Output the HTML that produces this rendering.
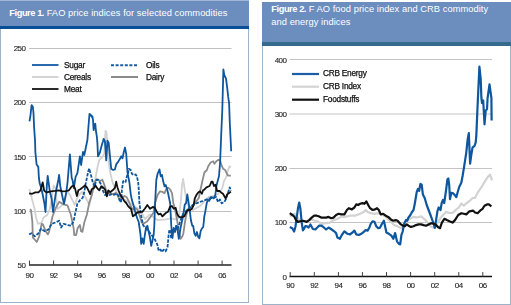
<!DOCTYPE html>
<html><head><meta charset="utf-8"><style>
*{margin:0;padding:0;box-sizing:border-box}
html,body{width:511px;height:305px;overflow:hidden;background:#fff}
body{position:relative;font-family:"Liberation Sans",sans-serif}
.box{position:absolute;width:249px;height:303px;border:1px solid #9db4c8;border-top:none;background:#fff}
.hd{position:absolute;left:-1px;top:0;width:249px;background:#6b8ebf;color:#fff}
.bar{position:absolute;left:-1px;width:249px}
.t{position:absolute;white-space:nowrap;font-size:9.3px;line-height:13px;color:#fff;letter-spacing:0.06px}
.t b{font-weight:bold;letter-spacing:-0.45px}
svg{position:absolute;left:0;top:0;will-change:transform}

.ax{font-size:8px;fill:#1a1a1a;stroke:#1a1a1a;stroke-width:0.1px;letter-spacing:-0.5px}
.lg{font-size:8.3px;fill:#111;stroke:#111;stroke-width:0.25px;letter-spacing:-0.25px}
</style></head><body>
<div class="box" style="left:0;top:0"><div class="hd" style="height:26px;border-top:1px solid #a3b8d6"></div><div class="bar" style="top:26px;height:3px;background:#064e96"></div></div>
<div class="box" style="left:262px;top:2px"><div class="hd" style="height:40px"></div><div class="bar" style="top:39.8px;height:4px;background:#346b8d"></div></div>
<div class="t" style="left:9.3px;top:6.7px"><b>Figure 1.</b> FAO price indices for selected commodities</div>
<div class="t" style="left:271.3px;top:3.2px"><b>Figure 2.</b> F AO food price index and CRB commodity<br>and energy indices</div>
<svg width="511" height="305" viewBox="0 0 511 305">
<line x1="29" y1="211.5" x2="231.5" y2="211.5" stroke="#c0c0c0" stroke-width="1"/><line x1="29" y1="156.5" x2="231.5" y2="156.5" stroke="#c0c0c0" stroke-width="1"/><line x1="29" y1="102.5" x2="231.5" y2="102.5" stroke="#c0c0c0" stroke-width="1"/><line x1="29" y1="48.5" x2="231.5" y2="48.5" stroke="#c0c0c0" stroke-width="1"/><line x1="29" y1="265" x2="231.5" y2="265" stroke="#5a5a5a" stroke-width="2"/><line x1="29.5" y1="260.5" x2="29.5" y2="265" stroke="#444" stroke-width="1"/><line x1="53.6" y1="260.5" x2="53.6" y2="265" stroke="#444" stroke-width="1"/><line x1="77.7" y1="260.5" x2="77.7" y2="265" stroke="#444" stroke-width="1"/><line x1="101.7" y1="260.5" x2="101.7" y2="265" stroke="#444" stroke-width="1"/><line x1="125.8" y1="260.5" x2="125.8" y2="265" stroke="#444" stroke-width="1"/><line x1="149.9" y1="260.5" x2="149.9" y2="265" stroke="#444" stroke-width="1"/><line x1="174.0" y1="260.5" x2="174.0" y2="265" stroke="#444" stroke-width="1"/><line x1="198.1" y1="260.5" x2="198.1" y2="265" stroke="#444" stroke-width="1"/><line x1="222.1" y1="260.5" x2="222.1" y2="265" stroke="#444" stroke-width="1"/><text x="25.5" y="268.2" text-anchor="end" class="ax">50</text><text x="25.5" y="213.9" text-anchor="end" class="ax">100</text><text x="25.5" y="159.5" text-anchor="end" class="ax">150</text><text x="25.5" y="105.2" text-anchor="end" class="ax">200</text><text x="25.5" y="50.9" text-anchor="end" class="ax">250</text><text x="29.5" y="277.6" text-anchor="middle" class="ax">90</text><text x="53.6" y="277.6" text-anchor="middle" class="ax">92</text><text x="77.7" y="277.6" text-anchor="middle" class="ax">94</text><text x="101.7" y="277.6" text-anchor="middle" class="ax">96</text><text x="125.8" y="277.6" text-anchor="middle" class="ax">98</text><text x="149.9" y="277.6" text-anchor="middle" class="ax">00</text><text x="174.0" y="277.6" text-anchor="middle" class="ax">02</text><text x="198.1" y="277.6" text-anchor="middle" class="ax">04</text><text x="222.1" y="277.6" text-anchor="middle" class="ax">06</text><line x1="289.5" y1="222.5" x2="492" y2="222.5" stroke="#c4c4c4" stroke-width="1"/><line x1="289.5" y1="168.5" x2="492" y2="168.5" stroke="#c4c4c4" stroke-width="1"/><line x1="289.5" y1="114" x2="492" y2="114" stroke="#c4c4c4" stroke-width="1"/><line x1="289.5" y1="59.5" x2="492" y2="59.5" stroke="#c4c4c4" stroke-width="1"/><line x1="289.5" y1="276.5" x2="492" y2="276.5" stroke="#111" stroke-width="1.6"/><line x1="290.2" y1="272" x2="290.2" y2="276.5" stroke="#444" stroke-width="1"/><line x1="314.3" y1="272" x2="314.3" y2="276.5" stroke="#444" stroke-width="1"/><line x1="338.4" y1="272" x2="338.4" y2="276.5" stroke="#444" stroke-width="1"/><line x1="362.4" y1="272" x2="362.4" y2="276.5" stroke="#444" stroke-width="1"/><line x1="386.5" y1="272" x2="386.5" y2="276.5" stroke="#444" stroke-width="1"/><line x1="410.6" y1="272" x2="410.6" y2="276.5" stroke="#444" stroke-width="1"/><line x1="434.7" y1="272" x2="434.7" y2="276.5" stroke="#444" stroke-width="1"/><line x1="458.8" y1="272" x2="458.8" y2="276.5" stroke="#444" stroke-width="1"/><line x1="482.8" y1="272" x2="482.8" y2="276.5" stroke="#444" stroke-width="1"/><text x="286.5" y="279.5" text-anchor="end" class="ax">0</text><text x="286.5" y="225.2" text-anchor="end" class="ax">100</text><text x="286.5" y="171.0" text-anchor="end" class="ax">200</text><text x="286.5" y="116.7" text-anchor="end" class="ax">300</text><text x="286.5" y="62.5" text-anchor="end" class="ax">400</text><text x="290.2" y="288.2" text-anchor="middle" class="ax">90</text><text x="314.3" y="288.2" text-anchor="middle" class="ax">92</text><text x="338.4" y="288.2" text-anchor="middle" class="ax">94</text><text x="362.4" y="288.2" text-anchor="middle" class="ax">96</text><text x="386.5" y="288.2" text-anchor="middle" class="ax">98</text><text x="410.6" y="288.2" text-anchor="middle" class="ax">00</text><text x="434.7" y="288.2" text-anchor="middle" class="ax">02</text><text x="458.8" y="288.2" text-anchor="middle" class="ax">04</text><text x="482.8" y="288.2" text-anchor="middle" class="ax">06</text><line x1="32" y1="65" x2="58.5" y2="65" stroke="#2a6aae" stroke-width="2"/><line x1="32" y1="77" x2="58.5" y2="77" stroke="#d4d4d4" stroke-width="2"/><line x1="32" y1="89" x2="58.5" y2="89" stroke="#2a2a2a" stroke-width="2"/><line x1="111" y1="65.3" x2="138" y2="65.3" stroke="#1a5fa5" stroke-width="2" stroke-dasharray="3,1.6"/><line x1="111" y1="77" x2="138" y2="77" stroke="#8a8a8a" stroke-width="2"/><text x="64" y="68" class="lg">Sugar</text><text x="64" y="80" class="lg">Cereals</text><text x="64" y="92" class="lg">Meat</text><text x="146" y="68.3" class="lg">Oils</text><text x="146" y="80" class="lg">Dairy</text><line x1="292" y1="74" x2="319" y2="74" stroke="#1a5fa5" stroke-width="2.2"/><line x1="292" y1="86.7" x2="319" y2="86.7" stroke="#d4d4d4" stroke-width="2.2"/><line x1="292" y1="99.7" x2="319" y2="99.7" stroke="#111" stroke-width="2.2"/><text x="323" y="76.2" class="lg">CRB Energy</text><text x="323" y="89" class="lg">CRB Index</text><text x="323" y="102" class="lg">Foodstuffs</text>
<polyline points="29.3,189.0 30.8,194.3 32.7,201.9 34.6,209.0 36.0,217.5 37.9,223.8 41.7,222.5 43.5,217.5 47.3,215.0 49.8,209.0 51.7,199.0 53.6,185.7 55.5,187.6 56.4,199.0 57.4,209.0 60.0,207.0 64.0,202.8 66.9,191.4 70.0,195.0 74.6,204.8 78.0,196.0 82.0,192.0 86.0,198.0 89.3,205.0 93.0,189.8 95.5,178.0 97.4,167.6 99.3,160.0 101.8,157.5 104.3,153.8 104.8,143.0 105.5,130.7 106.5,132.0 107.4,143.0 108.6,162.4 110.7,174.8 112.8,183.1 116.9,193.4 125.0,200.0 131.0,203.8 137.0,208.0 141.0,212.0 145.0,219.0 150.0,214.5 157.6,220.2 166.2,219.3 170.9,218.3 174.7,219.3 178.5,218.0 179.8,210.0 181.0,200.0 181.9,186.0 183.1,178.8 185.6,195.1 188.0,205.0 193.0,210.0 200.0,206.0 208.6,197.0 214.0,196.0 218.0,194.0 222.2,188.5 224.0,181.0 225.9,177.9 227.6,171.3 229.5,166.3 230.8,167.5" fill="none" stroke="#d2d2d2" stroke-width="1.8" stroke-linejoin="round"/><polyline points="29.8,209.4 31.0,210.0 32.3,221.3 32.9,237.6 34.1,238.8 36.7,242.0 39.2,236.3 41.7,223.8 42.9,224.4 45.4,230.7 47.9,234.4 49.2,231.3 52.4,216.8 55.9,207.6 59.3,201.8 62.8,204.1 67.4,205.3 70.8,214.5 73.6,228.0 74.3,235.2 76.1,235.0 77.7,228.0 79.9,225.0 81.1,231.3 82.4,231.9 84.3,222.5 86.9,214.5 89.2,203.0 91.8,195.0 94.3,183.0 96.8,179.1 99.9,181.0 102.4,179.8 104.3,184.8 106.8,192.3 109.9,193.5 113.1,194.2 116.2,192.9 119.3,199.2 121.8,197.9 124.3,196.0 126.8,197.3 128.7,201.1 130.6,206.1 133.1,209.8 135.0,208.0 136.9,209.2 138.1,211.1 141.7,222.6 143.5,223.8 147.3,221.3 151.0,216.3 153.6,212.5 155.1,203.0 157.6,195.1 160.1,191.3 162.6,191.9 164.5,193.2 166.4,188.8 168.2,187.6 170.1,189.4 172.0,193.2 173.3,203.0 174.7,207.9 176.6,217.4 178.0,225.9 179.5,233.8 180.7,238.9 182.5,236.0 183.3,233.8 184.7,224.0 186.1,215.5 188.0,209.8 192.0,206.0 195.0,203.0 198.8,198.0 200.7,188.8 202.6,180.0 204.4,172.5 206.9,170.0 208.2,166.3 210.7,162.5 213.2,161.3 214.5,163.8 216.3,161.3 218.2,160.0 220.0,160.0 221.4,165.0 223.2,168.8 225.1,170.0 227.0,173.8 228.2,175.7 230.8,175.7" fill="none" stroke="#8c8c8c" stroke-width="1.8" stroke-linejoin="round"/><polyline points="29.1,234.4 31.6,233.2 34.8,236.3 38.5,233.2 41.0,228.8 44.8,231.3 48.6,229.4 51.7,223.8 55.4,222.5 59.2,220.7 61.1,227.6 63.6,223.8 67.4,225.0 71.1,225.7 73.6,221.3 75.5,212.0 77.4,203.6 80.3,199.8 82.6,197.9 84.1,193.1 85.5,184.6 86.9,177.9 88.3,171.0 89.3,168.6 90.1,172.0 91.2,176.0 92.6,181.7 94.5,186.5 96.4,179.8 98.3,179.8 101.2,184.6 103.1,191.2 105.0,195.0 106.9,194.1 109.7,195.0 112.4,194.0 114.3,194.8 116.8,193.5 118.7,196.0 120.0,202.3 121.2,201.1 121.9,190.0 123.1,181.3 124.4,180.7 125.6,181.9 126.9,176.3 128.1,173.1 128.8,168.8 130.7,170.0 131.9,173.8 133.8,175.0 135.7,174.4 136.9,176.3 138.2,182.5 138.8,190.0 139.4,203.0 141.2,216.0 143.0,225.0 146.8,229.5 149.3,232.0 151.2,234.5 153.1,237.0 154.9,239.5 157.4,244.6 158.7,250.8 160.6,249.6 161.8,252.1 163.7,249.6 165.6,251.4 167.5,247.1 168.1,240.8 168.7,234.5 169.4,229.5 170.6,232.0 171.2,238.3 172.5,230.8 173.7,228.3 175.0,232.0 176.2,225.8 177.5,229.5 180.0,222.0 183.0,214.0 187.0,210.0 191.0,206.0 195.0,204.0 199.6,202.0 203.0,201.0 207.8,199.0 211.0,198.0 213.6,198.0 216.1,197.0 218.0,202.0 219.9,199.5 221.7,203.3 224.2,202.0 226.1,198.9 227.8,193.5 229.7,187.3 230.9,191.0" fill="none" stroke="#0e569e" stroke-width="1.8" stroke-dasharray="3.4,1.3" stroke-linejoin="round"/><polyline points="29.5,121.4 30.4,115.8 31.6,105.1 32.9,107.0 33.5,113.3 34.1,127.1 35.0,140.0 35.4,152.5 36.6,164.4 37.5,165.7 38.3,167.0 38.9,178.0 39.8,183.8 41.2,187.6 42.6,194.3 44.5,203.8 45.5,212.0 46.9,184.8 47.7,175.8 49.8,191.3 51.7,199.0 53.0,212.0 54.5,201.9 56.4,189.5 58.3,180.0 59.1,174.8 60.2,185.7 62.1,195.2 64.0,203.8 65.9,194.3 67.4,183.8 69.9,154.4 71.7,178.0 72.5,180.0 73.8,188.0 75.6,176.9 77.4,173.2 79.9,156.3 81.1,165.0 83.0,151.9 84.3,155.0 87.4,140.0 89.5,113.8 90.8,115.0 91.8,116.9 92.4,116.3 93.0,120.0 93.6,130.0 94.5,124.4 95.3,123.8 95.8,130.0 96.8,136.3 97.4,143.0 98.0,156.3 99.9,152.5 101.8,145.0 103.0,141.3 103.7,138.8 104.9,141.3 105.6,150.0 106.2,160.4 106.8,152.0 107.4,140.7 108.7,143.0 111.2,168.8 113.1,170.0 114.9,169.4 116.2,164.4 118.1,161.9 120.0,158.8 121.2,156.3 122.5,158.2 123.7,152.5 125.0,147.5 126.2,153.8 127.5,172.5 129.4,182.5 130.7,193.8 131.9,200.1 133.6,205.5 135.5,213.0 137.5,219.0 138.7,222.0 140.5,234.5 141.2,243.9 142.4,238.3 143.7,243.9 144.9,234.5 146.2,227.0 147.4,225.8 148.7,232.0 149.9,237.0 151.2,245.8 152.4,240.8 153.7,234.5 154.3,225.8 155.1,203.0 156.3,180.0 157.6,173.8 159.5,169.4 160.7,176.3 162.0,175.0 163.2,181.3 164.5,186.3 165.7,185.0 167.0,188.8 168.2,193.8 169.5,200.1 170.1,203.0 171.3,226.0 172.5,238.0 173.7,228.0 175.0,232.0 176.2,226.0 177.5,229.5 178.8,238.9 180.7,227.0 182.9,217.1 184.8,204.5 186.0,203.3 187.3,194.5 188.5,202.0 189.8,210.8 191.0,220.8 192.3,225.8 193.2,225.8 194.4,233.3 195.7,235.8 196.9,232.0 198.2,237.0 199.4,238.3 200.7,230.8 202.0,228.3 203.2,227.0 203.8,222.0 204.2,217.1 205.4,210.8 206.7,203.3 208.0,199.5 209.2,200.8 211.1,197.0 213.6,198.3 215.3,195.0 216.5,185.4 219.0,176.0 220.1,162.5 221.2,135.0 222.3,110.0 223.4,69.3 224.2,75.0 225.0,76.5 226.0,78.6 227.1,86.9 228.1,96.2 229.1,103.4 229.8,123.0 231.2,151.3" fill="none" stroke="#0e569e" stroke-width="1.8" stroke-linejoin="round"/><polyline points="29.1,193.4 32.2,193.8 35.3,192.4 38.4,192.4 40.5,190.3 42.7,182.3 44.2,190.8 46.7,192.4 50.8,191.3 54.9,190.9 59.1,190.3 62.2,191.3 66.0,191.2 68.9,190.3 71.7,186.5 73.6,185.5 75.0,188.4 76.9,196.0 78.4,190.3 80.3,189.3 82.6,187.4 85.0,185.5 86.9,187.4 88.8,191.2 90.2,194.1 91.7,189.3 93.6,188.4 95.5,185.5 97.4,188.4 99.3,190.3 101.2,186.5 103.1,187.4 105.0,189.3 106.9,196.4 108.3,190.3 110.2,192.2 112.6,190.3 114.9,187.9 116.2,181.6 117.4,187.3 118.7,191.0 120.6,195.4 122.5,197.9 124.3,201.1 126.2,203.0 128.1,206.1 130.0,208.0 131.0,208.8 132.9,216.3 134.8,215.0 137.3,212.5 139.8,211.9 142.3,211.9 144.8,208.8 147.3,205.0 149.2,207.5 150.0,208.8 152.9,206.9 154.8,207.9 156.7,211.7 158.6,214.5 160.5,213.6 162.4,216.4 164.3,214.5 166.2,212.6 168.1,211.7 170.0,206.9 171.9,206.0 173.8,208.8 175.7,207.9 177.1,213.6 178.5,216.4 180.4,217.4 182.3,216.9 184.2,216.4 186.1,212.6 188.0,209.8 189.9,210.2 191.8,208.8 193.7,205.0 194.8,198.3 196.7,194.5 198.2,192.6 200.0,191.3 201.9,193.8 203.2,190.0 204.0,189.8 206.5,187.3 209.6,186.0 211.5,181.6 212.5,181.6 214.0,186.0 215.6,184.8 216.5,188.5 217.1,191.0 219.7,191.0 221.5,192.9 222.8,193.5 225.7,198.5 227.2,194.2 228.8,193.2 230.9,191.6" fill="none" stroke="#111" stroke-width="1.8" stroke-linejoin="round"/><polyline points="289.8,216.3 292.3,214.4 294.8,213.8 297.3,216.9 299.8,221.3 303.5,221.9 307.3,220.7 311.1,219.4 314.8,220.7 318.6,221.9 322.3,223.8 326.1,223.2 329.9,222.6 333.6,220.1 337.4,218.8 341.1,216.9 345.0,216.9 350.0,215.7 355.0,215.7 360.0,213.8 363.8,211.9 365.7,210.0 367.6,211.9 370.7,213.2 374.5,213.8 377.6,213.2 381.4,214.4 385.1,216.3 388.9,220.1 391.4,221.9 393.9,225.1 397.6,226.3 401.0,228.2 403.5,225.1 406.0,221.3 409.8,218.8 413.5,216.9 417.3,217.5 421.1,216.3 424.8,219.4 428.6,223.8 431.1,226.9 433.6,227.6 436.1,225.1 440.0,218.8 443.1,215.0 446.3,211.9 449.4,213.0 452.5,213.0 455.7,210.0 458.8,207.5 461.3,203.5 463.8,205.8 466.3,203.3 470.1,200.5 472.6,198.0 475.1,197.8 477.6,192.8 480.1,189.0 482.6,185.3 484.5,182.1 486.4,179.0 488.2,176.5 490.1,174.6 492.0,180.3" fill="none" stroke="#d2d2d2" stroke-width="2.2" stroke-linejoin="round"/><polyline points="289.8,227.0 292.3,228.2 294.1,231.5 295.4,227.0 296.7,217.6 297.9,208.8 299.2,202.5 300.4,208.8 301.7,222.6 302.9,230.3 304.2,228.5 305.4,226.0 306.7,226.3 308.6,227.5 310.4,224.5 312.9,229.0 315.4,229.5 317.3,227.5 319.2,225.6 321.1,225.5 323.6,227.2 326.1,229.5 328.6,227.5 331.7,229.5 334.2,231.3 336.1,233.1 337.4,237.5 339.9,238.8 341.8,235.0 344.4,231.3 347.5,233.8 350.0,234.4 352.5,232.5 354.4,230.6 356.3,234.4 358.8,235.0 361.3,233.8 363.8,231.9 365.7,230.0 367.6,230.6 369.4,227.5 370.7,223.8 372.6,221.3 374.5,221.9 376.3,226.3 378.2,228.2 380.1,227.6 382.0,223.8 383.9,220.7 385.1,226.3 386.4,232.5 388.9,233.8 391.4,235.6 393.3,238.8 395.1,233.1 397.0,241.3 398.9,243.8 400.2,244.4 401.4,235.0 402.7,231.3 404.1,223.8 406.0,220.0 407.3,220.7 408.5,217.5 410.4,215.0 411.7,212.5 413.5,210.0 414.8,203.8 415.4,200.0 416.7,192.1 417.9,188.9 419.2,190.8 420.4,183.9 421.7,184.6 422.9,194.6 424.8,198.3 426.7,205.0 428.6,210.0 430.5,215.0 432.3,220.0 433.6,223.8 434.8,228.0 436.1,220.0 437.4,211.3 438.6,207.5 440.5,210.0 441.7,203.0 443.0,200.0 444.2,203.0 446.1,190.0 447.4,179.5 448.3,178.5 449.2,185.0 450.0,199.1 451.3,192.8 453.2,193.4 455.0,195.3 456.3,197.2 458.2,190.3 459.4,186.5 461.3,182.8 462.6,176.0 464.4,164.8 466.3,152.3 467.6,139.8 468.8,133.1 470.1,163.6 471.3,154.8 472.6,147.3 474.5,146.0 475.7,142.3 476.3,136.0 477.6,105.5 479.4,66.5 480.7,78.8 481.4,98.0 482.0,103.0 483.2,100.5 484.5,124.3 485.7,110.5 487.0,109.3 487.6,98.0 489.5,84.3 491.4,98.0 491.6,120.6" fill="none" stroke="#0e569e" stroke-width="2.2" stroke-linejoin="round"/><polyline points="289.8,213.2 292.3,215.0 294.1,216.3 296.0,220.1 297.9,221.9 300.4,221.3 302.9,220.7 304.8,221.3 306.7,221.9 309.2,220.1 311.7,217.6 314.2,215.7 316.7,215.7 318.6,216.3 321.1,217.6 323.6,217.6 326.1,217.6 328.6,216.9 331.1,218.2 333.6,217.6 336.1,215.0 338.6,213.8 341.1,214.4 344.4,214.4 346.9,210.0 348.8,208.2 351.9,209.4 354.4,207.5 356.3,204.4 358.2,205.0 360.1,203.8 362.6,203.1 364.4,203.8 366.3,201.3 368.2,205.0 370.1,208.2 372.6,210.0 375.1,209.4 377.0,208.2 378.8,210.0 380.7,214.4 383.2,213.8 385.7,215.7 388.2,216.9 390.8,219.4 393.3,220.7 395.8,220.1 397.6,220.7 400.2,223.8 402.9,225.7 404.8,226.3 406.7,224.4 408.5,225.7 411.0,226.9 413.5,226.3 416.0,225.1 418.6,224.4 421.1,224.4 423.6,225.1 426.1,225.7 428.6,224.4 431.1,223.2 433.6,223.8 436.1,225.1 438.6,227.6 440.0,228.2 441.9,222.6 444.4,218.8 446.9,220.1 449.4,221.3 452.5,222.6 455.0,220.1 458.2,215.0 461.3,213.2 463.8,213.8 466.3,214.4 469.4,211.3 473.2,210.7 475.1,212.5 477.6,213.2 480.1,210.7 482.6,208.8 484.5,205.7 487.0,204.4 488.9,204.4 491.4,206.3" fill="none" stroke="#111" stroke-width="2.2" stroke-linejoin="round"/>
</svg>
</body></html>
